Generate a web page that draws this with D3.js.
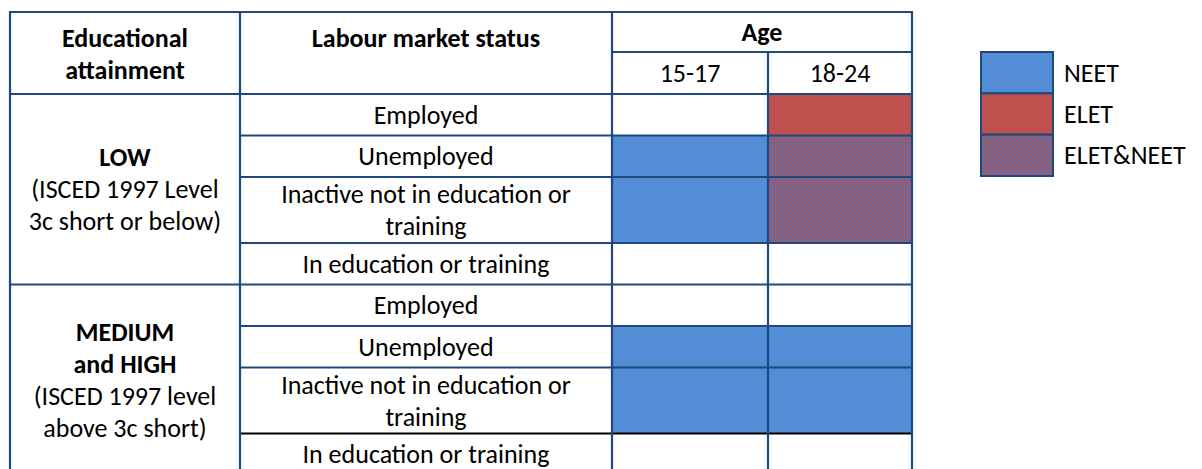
<!DOCTYPE html>
<html>
<head>
<meta charset="utf-8">
<script src="https://cdn.jsdelivr.net/npm/d3@7"></script>
<style>
  body { margin: 0; background: #fff; }
  svg text { font-family: Calibri, Carlito, Lato, sans-serif; fill: #000; }
</style>
</head>
<body>
<div id="chart"></div>
<script>
// data
const ageGroups = ['15-17', '18-24'];
const statuses = [
  ['Employed'],
  ['Unemployed'],
  ['Inactive not in education or', 'training'],
  ['In education or training']
];
const attainments = ['LOW', 'MEDIUM and HIGH'];
const attainmentLabels = [
  { bold: ['LOW'], normal: ['(ISCED 1997 Level', '3c short or below)'] },
  { bold: ['MEDIUM', 'and HIGH'], normal: ['(ISCED 1997 level', 'above 3c short)'] }
];
// which group each cell belongs to: [attainment][status][age]
const cellGroups = [
  [['', 'ELET'], ['NEET', 'ELET&NEET'], ['NEET', 'ELET&NEET'], ['', '']],
  [['', ''], ['NEET', 'NEET'], ['NEET', 'NEET'], ['', '']]
];
const legendItems = ['NEET', 'ELET', 'ELET&NEET'];

const width = 1202, height = 469;
const lineColor = '#1F497D';
const fontSize = 26;

const svg = d3.select('#chart').append('svg')
  .attr('width', width).attr('height', height);

// fine diagonal checker used for ELET&NEET
const defs = svg.append('defs');
const pat = defs.append('pattern')
  .attr('id', 'hatch')
  .attr('patternUnits', 'userSpaceOnUse')
  .attr('width', 4).attr('height', 4);
pat.append('rect').attr('width', 4).attr('height', 4).attr('fill', '#4A74B8');
d3.range(4).forEach(r => {
  [0, 1].forEach(k => {
    pat.append('rect')
      .attr('x', (r + k) % 4).attr('y', r)
      .attr('width', 1).attr('height', 1)
      .attr('shape-rendering', 'crispEdges')
      .attr('fill', '#C0504D');
  });
});

const fillColor = d3.scaleOrdinal()
  .domain(legendItems)
  .range(['#538DD5', '#C0504D', 'url(#hatch)']);

// columns (the two age columns are not quite equal in the original)
const colEdges = [10, 240, 612, 912];
const ageEdges = [612, 768, 912];
const xAge = d3.scaleOrdinal().domain(ageGroups).range(ageEdges.slice(0, 2));
const wAge = a => ageEdges[ageGroups.indexOf(a) + 1] - xAge(a);

// rows
const headerTop = 12, headerMid = 52, headerBottom = 94;
const rowHeight = d3.scaleLinear().domain([1, 2]).range([41.5, 66]);

const rows = [];
let y = headerBottom;
attainments.forEach((a, ai) => {
  statuses.forEach((s, si) => {
    const h = rowHeight(s.length);
    rows.push({ ai, si, lines: s, y0: y, y1: y + h });
    y += h;
  });
});
const tableBottom = y;

const g = svg.append('g');

// cell fills
rows.forEach(r => {
  ageGroups.forEach((age, k) => {
    const grp = cellGroups[r.ai][r.si][k];
    if (!grp) return;
    g.append('rect')
      .attr('x', xAge(age)).attr('y', r.y0)
      .attr('width', wAge(age)).attr('height', r.y1 - r.y0)
      .attr('fill', fillColor(grp));
  });
});

function hline(x0, x1, yy, color) {
  g.append('line').attr('x1', x0).attr('x2', x1).attr('y1', yy).attr('y2', yy)
    .attr('stroke', color || lineColor).attr('stroke-width', 2.2);
}
function vline(xx, y0, y1) {
  g.append('line').attr('x1', xx).attr('x2', xx).attr('y1', y0).attr('y2', y1)
    .attr('stroke', lineColor).attr('stroke-width', 2.2);
}

// grid lines
hline(colEdges[0], colEdges[3], headerTop);
hline(colEdges[2], colEdges[3], headerMid);
hline(colEdges[0], colEdges[3], headerBottom);
rows.forEach((r, i) => {
  const last = r.si === statuses.length - 1;
  if (last) hline(colEdges[0], colEdges[3], r.y1);
  else hline(colEdges[1], colEdges[3], r.y1, (i === rows.length - 2) ? '#000' : lineColor);
});
colEdges.forEach(xx => vline(xx, headerTop - 1.1, tableBottom));
vline(xAge('18-24'), headerMid, tableBottom);

function text(x, yy, str, bold) {
  g.append('text')
    .attr('x', x).attr('y', yy)
    .attr('text-anchor', 'middle')
    .attr('dominant-baseline', 'central')
    .attr('font-size', fontSize)
    .attr('font-weight', bold ? 'bold' : 'normal')
    .text(str);
}

// header
const lh = 32;
text((colEdges[0] + colEdges[1]) / 2, 38, 'Educational', true);
text((colEdges[0] + colEdges[1]) / 2, 70, 'attainment', true);
text((colEdges[1] + colEdges[2]) / 2, 38, 'Labour market status', true);
text((colEdges[2] + colEdges[3]) / 2, 32, 'Age', true);
ageGroups.forEach(a => text(xAge(a) + wAge(a) / 2, 73, a, false));

// status labels
rows.forEach(r => {
  const cy = (r.y0 + r.y1) / 2;
  r.lines.forEach((ln, i) => {
    text((colEdges[1] + colEdges[2]) / 2, cy + (i - (r.lines.length - 1) / 2) * lh, ln, false);
  });
});

// attainment labels
attainments.forEach((a, ai) => {
  const block = rows.filter(r => r.ai === ai);
  const cy = (block[0].y0 + block[block.length - 1].y1) / 2;
  const lab = attainmentLabels[ai];
  const all = lab.bold.map(t => [t, true]).concat(lab.normal.map(t => [t, false]));
  all.forEach((d, i) => {
    text((colEdges[0] + colEdges[1]) / 2, cy + (i - (all.length - 1) / 2) * lh, d[0], d[1]);
  });
});

// legend
const legY = d3.scaleBand().domain(legendItems).range([52, 176]);
const leg = svg.append('g');
legendItems.forEach(item => {
  leg.append('rect')
    .attr('x', 981).attr('y', legY(item))
    .attr('width', 72).attr('height', legY.bandwidth())
    .attr('fill', fillColor(item))
    .attr('stroke', lineColor).attr('stroke-width', 2);
  leg.append('text')
    .attr('x', 1064).attr('y', legY(item) + legY.bandwidth() / 2)
    .attr('dominant-baseline', 'central')
    .attr('font-size', fontSize)
    .text(item);
});
</script>
</body>
</html>
